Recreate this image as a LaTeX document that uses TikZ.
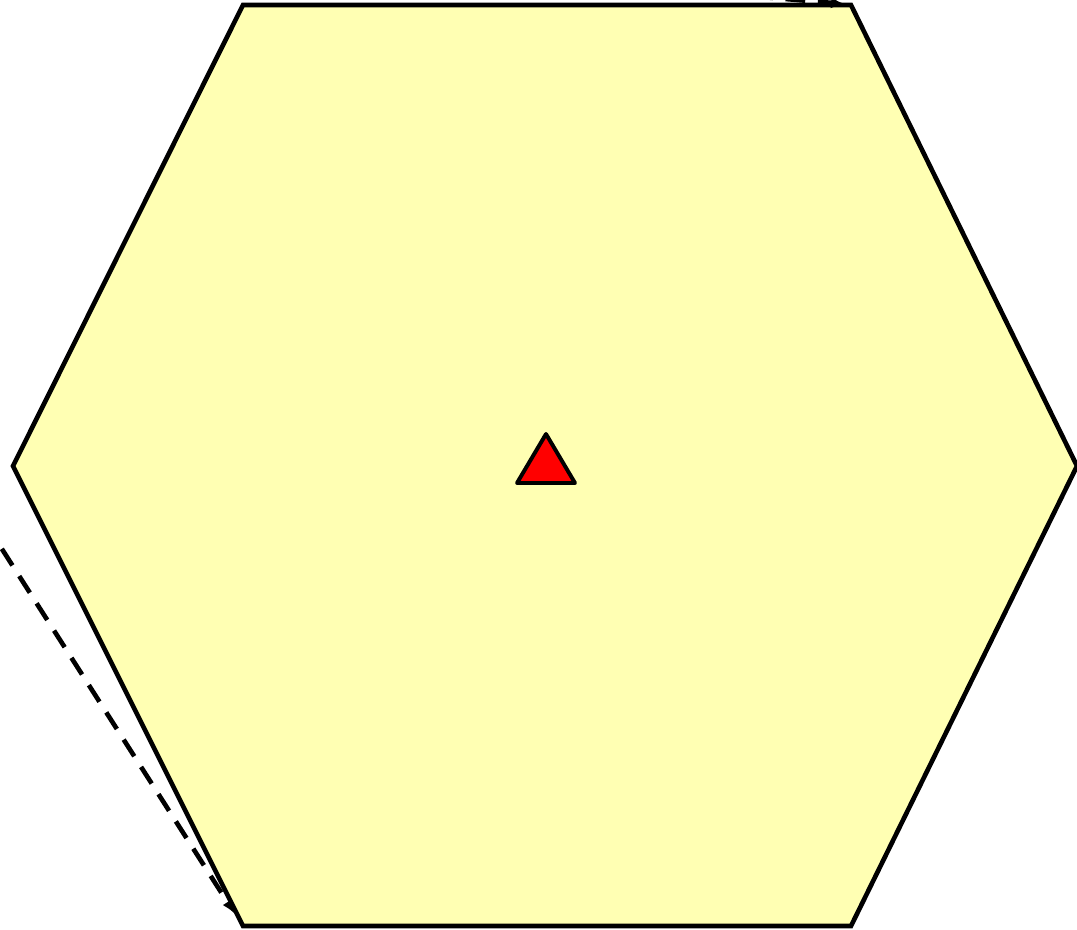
\documentclass[tikz,border=0pt]{standalone}
\usetikzlibrary{arrows.meta,calc}
\definecolor{cellfill}{HTML}{FFFFB3}

\begin{document}
\begin{tikzpicture}[x=0.025cm,y=-0.025cm,
  cell/.style={draw=black,fill=cellfill,line width=3.3pt,line join=miter},
  marker/.style={draw=black,fill=red,line width=2.8pt,line join=round},
  flow/.style={draw=black,line width=3.3pt,dash pattern=on 14pt off 9pt,-{Latex[length=3.5mm,width=2.8mm]}}]
\useasboundingbox (0,0) rectangle (1077,929);
\clip (0,0) rectangle (1077,929);
% hexagon corners
\coordinate (nw) at (243,5);
\coordinate (ne) at (851,5);
\coordinate (e) at (1077,466);
\coordinate (se) at (851,926);
\coordinate (sw) at (243,926);
\coordinate (w) at (13,466);
\draw[cell] (nw) -- (ne) -- (e) -- (se) -- (sw) -- (w) -- cycle;
% incoming edges
\coordinate (inA) at (-120,358);
\coordinate (inB) at (560,-20);
\draw[flow] (inA) -- ($(sw)+(-8,-12)$);
\draw[flow] (inB) -- ($(ne)+(-6,-1)$);
% centre marker
\coordinate (apex) at (546,434);
\coordinate (bl) at (517,483);
\coordinate (br) at (575,483);
\draw[marker] (apex) -- (br) -- (bl) -- cycle;
\end{tikzpicture}
\end{document}
